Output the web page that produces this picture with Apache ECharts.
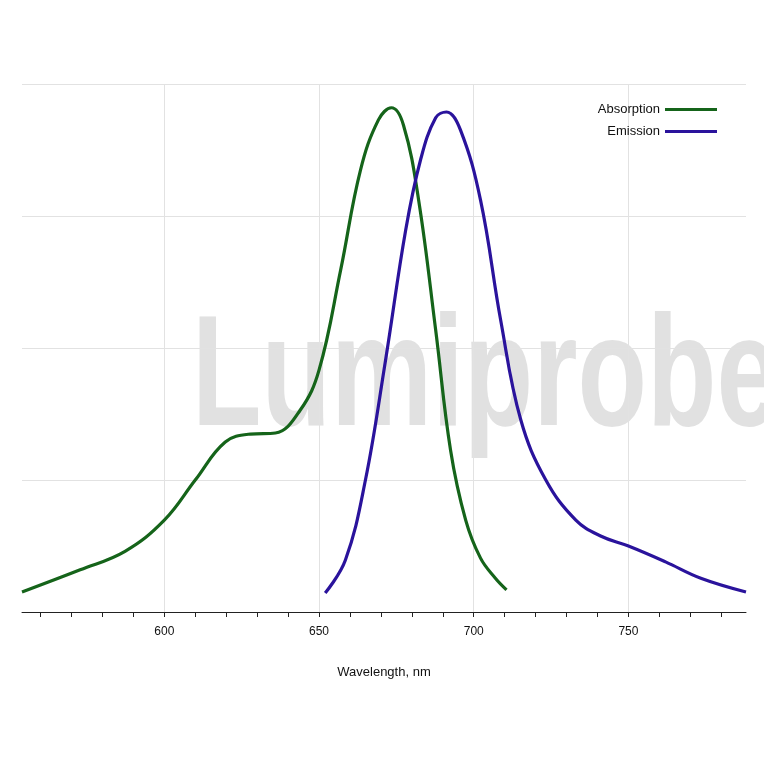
<!DOCTYPE html>
<html>
<head>
<meta charset="utf-8">
<script src="https://cdn.jsdelivr.net/npm/echarts@6/dist/echarts.min.js"></script>
<style>html,body{margin:0;padding:0;background:#fff}#chart{width:764px;height:764px}</style>
</head>
<body>
<div id="chart"></div>
<script>
// spectra (nm, relative intensity)
var absorption = [
  [554, 0.038], [572.8, 0.08], [587.3, 0.115], [600, 0.174], [610, 0.25], [619.7, 0.322],
  [627.8, 0.337], [635.9, 0.339], [644, 0.383], [650, 0.458], [657, 0.648], [663.4, 0.837],
  [669.2, 0.932], [673.4, 0.955], [677.3, 0.922], [682.2, 0.78], [687.7, 0.534],
  [692.5, 0.307], [697.4, 0.174], [702.2, 0.102], [707, 0.064], [710.6, 0.042]
];
var emission = [
  [652, 0.036], [658.5, 0.098], [665, 0.25], [671.5, 0.477], [678, 0.723], [682.8, 0.856],
  [687.7, 0.936], [691.2, 0.947], [695.7, 0.913], [702.2, 0.78], [708.7, 0.553],
  [715.2, 0.364], [723.3, 0.25], [733, 0.174], [741, 0.144], [750, 0.125], [762, 0.095],
  [773.4, 0.064], [788, 0.038]
];
var majorTicks = [600, 650, 700, 750];
var minorTicks = [560, 570, 580, 590, 600, 610, 620, 630, 640, 650, 660, 670, 680, 690,
  700, 710, 720, 730, 740, 750, 760, 770, 780];

var myChart = echarts.init(document.getElementById('chart'));
var option = {
    animation: false,
    grid: { left: 22, right: 18, top: 84, bottom: 152 },
    graphic: [{
        type: 'text', left: 192, top: 302, z: 0, scaleX: 0.72,
        style: { text: 'Lumiprobe', font: 'bold 158px "Liberation Sans"', fill: 'rgba(200,200,200,0.55)' }
    }],
    legend: {
        right: 42, top: 98, orient: 'vertical', align: 'right', itemGap: 9,
        itemWidth: 52, itemHeight: 3,
        textStyle: { fontFamily: 'Liberation Sans', fontSize: 13, color: '#111' },
        data: [{ name: 'Absorption', icon: 'rect' }, { name: 'Emission', icon: 'rect' }]
    },
    xAxis: {
        type: 'value', min: 554, max: 788,
        name: 'Wavelength, nm', nameLocation: 'middle', nameGap: 54,
        nameTextStyle: { fontFamily: 'Liberation Sans', fontSize: 13, color: '#111' },
        axisLine: { lineStyle: { color: '#222', width: 1 } },
        axisTick: { customValues: minorTicks, length: 5, lineStyle: { color: '#222' } },
        axisLabel: { customValues: majorTicks, fontFamily: 'Liberation Sans', fontSize: 12, color: '#111', margin: 14 },
        splitLine: { show: false }
    },
    yAxis: {
        type: 'value', min: 0, max: 1, interval: 0.25,
        axisLine: { show: false }, axisTick: { show: false }, axisLabel: { show: false },
        splitLine: { lineStyle: { color: '#e2e2e2' } }
    },
    series: [
        {
            name: 'grid', type: 'line', data: [], z: 1, silent: true,
            markLine: {
                silent: true, symbol: 'none', label: { show: false }, z: 1,
                lineStyle: { color: '#e2e2e2', type: 'solid', width: 1 },
                data: majorTicks.map(function (v) { return { xAxis: v }; })
            }
        },
        {
            name: 'Absorption', type: 'line', smooth: 0.4, showSymbol: false, data: absorption,
            color: '#15641a', lineStyle: { width: 3.2 }, z: 5
        },
        {
            name: 'Emission', type: 'line', smooth: 0.4, showSymbol: false, data: emission,
            color: '#2a139c', lineStyle: { width: 3.2 }, z: 5
        }
    ]
};
myChart.setOption(option);
</script>
</body>
</html>
